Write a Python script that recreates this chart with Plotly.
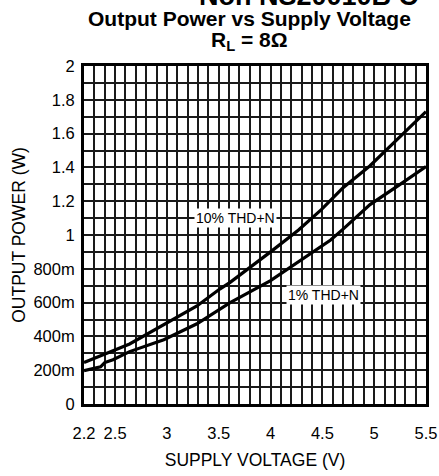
import plotly.graph_objects as go

# Data
v_10 = [2.2, 2.35, 2.48, 2.64, 2.8, 2.97, 3.29, 3.51, 3.61, 4.0, 4.27, 4.49, 4.7, 4.96, 5.25, 5.5]
p_10 = [0.245, 0.28, 0.315, 0.355, 0.41, 0.465, 0.58, 0.68, 0.72, 0.9, 1.03, 1.15, 1.28, 1.41, 1.58, 1.73]

v_1 = [2.2, 2.3, 2.36, 2.4, 2.48, 2.64, 2.97, 3.29, 3.51, 3.61, 4.0, 4.38, 4.58, 4.7, 4.96, 5.25, 5.5]
p_1 = [0.197, 0.21, 0.22, 0.245, 0.262, 0.31, 0.38, 0.475, 0.56, 0.6, 0.73, 0.89, 0.97, 1.035, 1.18, 1.3, 1.405]

x_ticks = [2.2, 2.5, 3, 3.5, 4, 4.5, 5, 5.5]
x_ticktext = ["2.2", "2.5", "3", "3.5", "4", "4.5", "5", "5.5"]
y_ticks = [0, 0.2, 0.4, 0.6, 0.8, 1.0, 1.2, 1.4, 1.6, 1.8, 2.0]
y_ticktext = ["0", "200m", "400m", "600m", "800m", "1", "1.2", "1.4", "1.6", "1.8", "2"]

label_10 = ("10% THD+N", 3.66, 1.10)
label_1 = ("1% THD+N", 4.51, 0.645)

FONT = "Liberation Sans, Arial, sans-serif"
GRID = "#1a1a1a"

fig = go.Figure()
fig.add_trace(go.Scatter(x=v_10, y=p_10, mode="lines", line=dict(color="black", width=3.2),
                         showlegend=False, hoverinfo="skip"))
fig.add_trace(go.Scatter(x=v_1, y=p_1, mode="lines", line=dict(color="black", width=3.2),
                         showlegend=False, hoverinfo="skip"))

for txt, x, y in (label_10, label_1):
    fig.add_annotation(x=x, y=y, xref="x", yref="y", text=txt, showarrow=False,
                       font=dict(family=FONT, size=14, color="black"),
                       bgcolor="white", borderpad=1)

# Titles
fig.add_annotation(x=0.33, y=1.158, xref="paper", yref="paper", yanchor="bottom",
                   xanchor="left", text="Non NS20010B C", showarrow=False,
                   font=dict(family=FONT, size=27, color="black", weight="bold"))
fig.add_annotation(x=0.485, y=1.142, xref="paper", yref="paper", yanchor="middle",
                   text="Output Power vs Supply Voltage", showarrow=False,
                   font=dict(family=FONT, size=21, color="black", weight="bold"))
fig.add_annotation(x=0.485, y=1.075, xref="paper", yref="paper", yanchor="middle",
                   text="R<sub>L</sub> = 8Ω", showarrow=False,
                   font=dict(family=FONT, size=21, color="black", weight="bold"))

fig.update_layout(
    width=439, height=476,
    margin=dict(l=84, r=13, t=66, b=72, autoexpand=False),
    paper_bgcolor="white", plot_bgcolor="white",
    font=dict(family=FONT, size=16.5, color="black"),
    xaxis=dict(range=[2.2, 5.5], tickmode="array", tickvals=x_ticks, ticktext=x_ticktext,
               showgrid=True, gridcolor=GRID, gridwidth=1.5,
               minor=dict(tickmode="linear", tick0=2.2, dtick=0.1, showgrid=True,
                          gridcolor=GRID, gridwidth=1.5),
               showline=True, linecolor="black", linewidth=3, mirror=True,
               ticks="", ticklabelstandoff=12, zeroline=False, automargin=False,
               title=dict(text="SUPPLY VOLTAGE (V)", font=dict(size=17.5), standoff=13)),
    yaxis=dict(range=[0, 2], tickmode="array", tickvals=y_ticks, ticktext=y_ticktext,
               showgrid=True, gridcolor=GRID, gridwidth=1.5,
               minor=dict(tickmode="linear", tick0=0, dtick=0.1, showgrid=True,
                          gridcolor=GRID, gridwidth=1.5),
               showline=True, linecolor="black", linewidth=3, mirror=True,
               ticks="", ticklabelstandoff=3, zeroline=False, automargin=False,
               title=dict(text="OUTPUT POWER (W)", font=dict(size=17.5), standoff=4)),
)

fig.write_html("out.html", config={"displayModeBar": False},
               post_script="document.body.style.margin='0';document.body.style.overflow='hidden';")
